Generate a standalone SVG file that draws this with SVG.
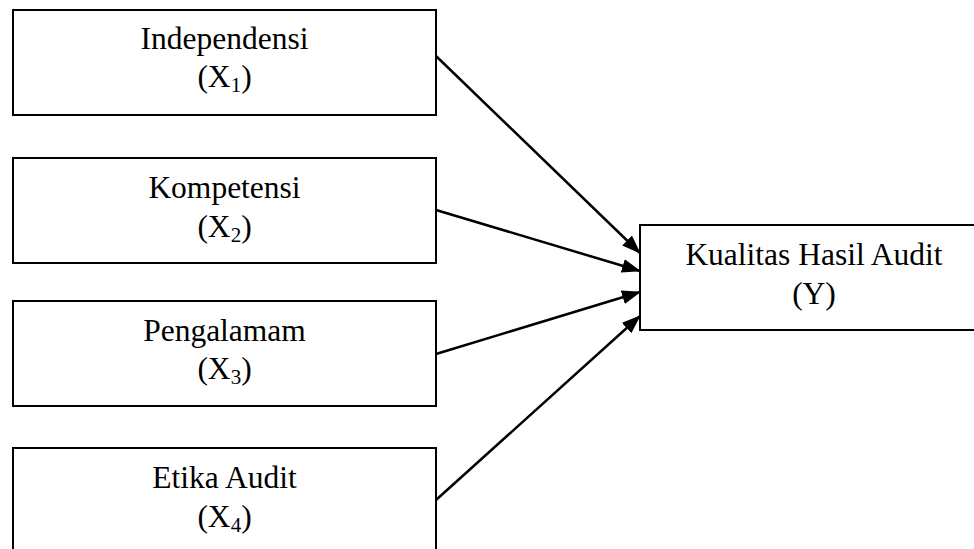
<svg xmlns="http://www.w3.org/2000/svg" width="974" height="549" viewBox="0 0 974 549">
<style>
.box{fill:#fff;stroke:#000;stroke-width:2}
text{font-family:'Liberation Serif','Times New Roman',Times,serif;font-size:31.5px;fill:#000;text-anchor:middle}
.sub{font-size:21px}
.c{stroke:#000;stroke-width:2.5;fill:none;marker-end:url(#ah)}
</style>
<defs>
<marker id="ah" viewBox="0 0 19 14" refX="18" refY="7" markerWidth="19" markerHeight="14" markerUnits="userSpaceOnUse" orient="auto">
<path d="M0,0 L19,7 L0,14 z" fill="#000"/>
</marker>
</defs>
<g id="x1">
<rect class="box" x="13" y="10" width="423" height="105"/>
<text x="224.5" y="49">Independensi</text>
<text x="224.5" y="87">(X<tspan class="sub" dy="5">1</tspan><tspan dy="-5">)</tspan></text>
</g>
<g id="x2">
<rect class="box" x="13" y="158" width="423" height="105"/>
<text x="224.5" y="198">Kompetensi</text>
<text x="224.5" y="237">(X<tspan class="sub" dy="5">2</tspan><tspan dy="-5">)</tspan></text>
</g>
<g id="x3">
<rect class="box" x="13" y="301" width="423" height="105"/>
<text x="224.5" y="341">Pengalamam</text>
<text x="224.5" y="379">(X<tspan class="sub" dy="5">3</tspan><tspan dy="-5">)</tspan></text>
</g>
<g id="x4">
<rect class="box" x="13" y="448" width="423" height="105"/>
<text x="224.5" y="488">Etika Audit</text>
<text x="224.5" y="527">(X<tspan class="sub" dy="5">4</tspan><tspan dy="-5">)</tspan></text>
</g>
<g id="y">
<rect class="box" x="640" y="225" width="348" height="105"/>
<text x="814" y="265">Kualitas Hasil Audit</text>
<text x="814" y="304">(Y)</text>
</g>
<g id="connectors">
<line class="c" x1="436" y1="56" x2="640" y2="253"/>
<line class="c" x1="436" y1="210" x2="640" y2="271"/>
<line class="c" x1="436" y1="354" x2="640" y2="292"/>
<line class="c" x1="436" y1="500" x2="640" y2="316"/>
</g>
</svg>
